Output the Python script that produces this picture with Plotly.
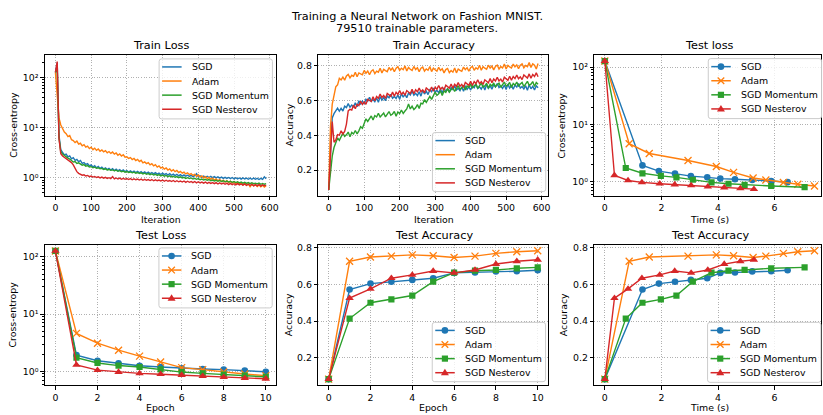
import plotly.graph_objects as go

W, H = 823, 415
FONT = "DejaVu Sans"

NAMES = ["SGD", "Adam", "SGD Momentum", "SGD Nesterov"]
COLORS = ["#1f77b4", "#ff7f0e", "#2ca02c", "#d62728"]
SYMBOLS = ["circle", "x-thin", "square", "triangle-up"]

ITER_STEP = 5  # one logged value every 5 iterations

# ---- Train loss (cross-entropy), one value every 5 iterations ----
TL_SGD = [125, 195, 7.0, 3.6, 3.2, 2.85, 2.95, 2.6, 2.72, 2.38,
          2.5, 2.22, 2.31, 2.08, 2.2, 1.93, 2.0, 1.84, 1.9, 1.72,
          1.8, 1.63, 1.74, 1.57, 1.68, 1.53, 1.62, 1.49, 1.57, 1.45,
          1.54, 1.42, 1.51, 1.39, 1.48, 1.37, 1.45, 1.35, 1.43, 1.32,
          1.39, 1.3, 1.37, 1.28, 1.35, 1.27, 1.34, 1.25, 1.32, 1.23,
          1.3, 1.22, 1.29, 1.21, 1.27, 1.19, 1.26, 1.18, 1.24, 1.16,
          1.23, 1.15, 1.21, 1.13, 1.2, 1.12, 1.18, 1.1, 1.17, 1.09,
          1.15, 1.08, 1.14, 1.07, 1.12, 1.06, 1.11, 1.05, 1.1, 1.2,
          1.04, 1.09, 1.03, 1.08, 1.02, 1.07, 1.01, 1.06, 1.0, 1.05,
          0.99, 1.04, 0.98, 1.03, 0.97, 1.02, 0.97, 1.01, 0.96, 1.01,
          0.95, 1.0, 0.95, 0.99, 0.94, 0.99, 0.94, 0.98, 0.93, 0.98,
          0.93, 0.98, 0.93, 0.97, 0.92, 0.97, 0.93, 1.04, 0.95]
TL_ADAM = [125, 42, 15.5, 11.2, 9.3, 8.1, 7.5, 6.6, 6.9, 5.7,
           5.5, 5.0, 5.35, 4.65, 4.85, 4.3, 4.55, 4.05, 4.25, 3.8,
           4.05, 3.62, 3.88, 3.5, 3.72, 3.36, 3.56, 3.28, 3.46, 3.14,
           3.32, 3.05, 3.24, 2.94, 3.1, 2.8, 2.96, 2.7, 2.86, 2.56,
           2.6, 2.42, 2.52, 2.3, 2.42, 2.2, 2.32, 2.1, 2.22, 1.98,
           2.06, 1.9, 2.0, 1.8, 1.9, 1.72, 1.82, 1.63, 1.72, 1.56,
           1.62, 1.48, 1.56, 1.42, 1.49, 1.36, 1.44, 1.32, 1.39, 1.27,
           1.34, 1.23, 1.29, 1.19, 1.25, 1.15, 1.21, 1.11, 1.17, 1.07,
           1.13, 1.03, 1.09, 0.99, 1.05, 0.96, 1.01, 0.93, 0.98, 0.9,
           0.95, 0.87, 0.92, 0.84, 0.89, 0.82, 0.87, 0.8, 0.85, 0.78,
           0.83, 0.76, 0.81, 0.74, 0.79, 0.72, 0.78, 0.71, 0.76, 0.66,
           0.74, 0.69, 0.73, 0.67, 0.72, 0.66, 0.71, 0.65, 0.69]
TL_MOM = [125, 150, 6.2, 3.3, 2.95, 2.75, 2.6, 2.45, 2.35, 2.2,
          2.05, 2.1, 1.92, 1.98, 1.85, 1.78, 1.82, 1.7, 1.74, 1.63,
          1.66, 1.58, 1.62, 1.54, 1.58, 1.5, 1.53, 1.46, 1.5, 1.43,
          1.46, 1.4, 1.43, 1.37, 1.41, 1.34, 1.38, 1.32, 1.35, 1.29,
          1.33, 1.27, 1.3, 1.25, 1.29, 1.23, 1.27, 1.21, 1.25, 1.19,
          1.23, 1.17, 1.21, 1.15, 1.19, 1.13, 1.17, 1.11, 1.15, 1.09,
          1.13, 1.07, 1.11, 1.05, 1.09, 1.04, 1.07, 1.02, 1.05, 1.0,
          1.04, 0.99, 1.02, 0.97, 1.0, 0.96, 0.99, 0.94, 0.97, 0.93,
          0.96, 0.91, 0.94, 0.9, 0.93, 0.89, 0.92, 0.87, 0.9, 0.86,
          0.89, 0.85, 0.88, 0.84, 0.87, 0.83, 0.86, 0.82, 0.85, 0.81,
          0.84, 0.8, 0.83, 0.79, 0.82, 0.78, 0.81, 0.77, 0.8, 0.76,
          0.79, 0.76, 0.78, 0.75, 0.78, 0.74, 0.77, 0.74, 0.76]
TL_NES = [125, 205, 6.0, 3.0, 2.7, 2.55, 2.4, 2.3, 2.2, 2.0,
          1.8, 1.5, 1.32, 1.22, 1.17, 1.12, 1.14, 1.08, 1.11, 1.05,
          1.08, 1.03, 1.06, 1.01, 1.04, 0.99, 1.03, 0.98, 1.02, 0.97,
          1.0, 0.96, 1.05, 0.95, 0.99, 0.94, 0.98, 0.93, 0.97, 0.93,
          0.96, 0.92, 0.96, 0.91, 0.95, 0.91, 0.94, 0.9, 0.94, 0.89,
          0.93, 0.89, 0.92, 0.88, 0.92, 0.87, 0.91, 0.87, 0.9, 0.86,
          0.9, 0.85, 0.89, 0.85, 0.88, 0.84, 0.88, 0.83, 0.87, 0.83,
          0.86, 0.82, 0.86, 0.81, 0.85, 0.81, 0.84, 0.8, 0.84, 0.79,
          0.83, 0.79, 0.82, 0.78, 0.82, 0.77, 0.81, 0.77, 0.8, 0.76,
          0.8, 0.75, 0.79, 0.75, 0.78, 0.74, 0.78, 0.73, 0.77, 0.73,
          0.76, 0.72, 0.76, 0.72, 0.75, 0.71, 0.75, 0.7, 0.74, 0.7,
          0.74, 0.69, 0.73, 0.69, 0.73, 0.68, 0.72, 0.69, 0.71]

# ---- Train accuracy, one value every 5 iterations ----
TA_SGD = [0.085, 0.34, 0.50, 0.525, 0.54, 0.557, 0.539, 0.556, 0.540, 0.568,
          0.560, 0.583, 0.562, 0.574, 0.564, 0.587, 0.565, 0.599, 0.581, 0.598,
          0.582, 0.608, 0.598, 0.619, 0.596, 0.606, 0.594, 0.615, 0.591, 0.623,
          0.603, 0.618, 0.600, 0.626, 0.616, 0.637, 0.614, 0.624, 0.612, 0.633,
          0.608, 0.641, 0.620, 0.636, 0.617, 0.644, 0.633, 0.655, 0.631, 0.642,
          0.629, 0.651, 0.626, 0.659, 0.638, 0.654, 0.635, 0.662, 0.651, 0.673,
          0.649, 0.659, 0.646, 0.667, 0.642, 0.674, 0.653, 0.668, 0.649, 0.675,
          0.664, 0.685, 0.661, 0.671, 0.658, 0.679, 0.654, 0.686, 0.665, 0.680,
          0.661, 0.686, 0.674, 0.695, 0.670, 0.680, 0.666, 0.687, 0.661, 0.693,
          0.671, 0.685, 0.666, 0.691, 0.679, 0.699, 0.675, 0.684, 0.670, 0.690,
          0.664, 0.695, 0.672, 0.686, 0.666, 0.690, 0.678, 0.698, 0.672, 0.681,
          0.667, 0.686, 0.660, 0.691, 0.668, 0.682, 0.662, 0.686, 0.674]
TA_ADAM = [0.085, 0.45, 0.58, 0.64, 0.68, 0.691, 0.729, 0.719, 0.736, 0.718,
           0.742, 0.751, 0.731, 0.746, 0.740, 0.764, 0.738, 0.760, 0.753, 0.749,
           0.774, 0.758, 0.770, 0.749, 0.770, 0.778, 0.756, 0.770, 0.764, 0.787,
           0.759, 0.780, 0.773, 0.767, 0.791, 0.776, 0.788, 0.766, 0.787, 0.796,
           0.774, 0.787, 0.778, 0.800, 0.771, 0.791, 0.781, 0.774, 0.797, 0.779,
           0.790, 0.767, 0.787, 0.793, 0.770, 0.783, 0.775, 0.796, 0.767, 0.787,
           0.778, 0.770, 0.792, 0.774, 0.784, 0.760, 0.779, 0.785, 0.761, 0.773,
           0.764, 0.788, 0.760, 0.782, 0.774, 0.769, 0.793, 0.778, 0.790, 0.769,
           0.790, 0.798, 0.775, 0.789, 0.781, 0.804, 0.775, 0.796, 0.787, 0.781,
           0.804, 0.788, 0.799, 0.777, 0.797, 0.805, 0.782, 0.796, 0.788, 0.811,
           0.782, 0.803, 0.794, 0.788, 0.811, 0.795, 0.806, 0.784, 0.804, 0.812,
           0.789, 0.803, 0.796, 0.819, 0.791, 0.812, 0.804, 0.782, 0.814]
TA_MOM = [0.085, 0.2, 0.28, 0.33, 0.36, 0.385, 0.371, 0.395, 0.413, 0.394,
          0.403, 0.419, 0.392, 0.417, 0.408, 0.428, 0.408, 0.426, 0.450, 0.441,
          0.473, 0.495, 0.480, 0.493, 0.512, 0.488, 0.514, 0.506, 0.527, 0.506,
          0.519, 0.529, 0.506, 0.524, 0.537, 0.516, 0.523, 0.538, 0.510, 0.535,
          0.525, 0.546, 0.526, 0.540, 0.552, 0.580, 0.552, 0.568, 0.549, 0.559,
          0.577, 0.555, 0.585, 0.581, 0.606, 0.590, 0.608, 0.624, 0.607, 0.631,
          0.650, 0.630, 0.639, 0.656, 0.630, 0.656, 0.648, 0.669, 0.649, 0.663,
          0.675, 0.653, 0.672, 0.686, 0.664, 0.672, 0.688, 0.661, 0.685, 0.676,
          0.696, 0.674, 0.685, 0.695, 0.671, 0.689, 0.701, 0.679, 0.685, 0.700,
          0.671, 0.694, 0.684, 0.702, 0.680, 0.691, 0.700, 0.677, 0.694, 0.707,
          0.684, 0.690, 0.705, 0.676, 0.699, 0.689, 0.707, 0.684, 0.696, 0.705,
          0.681, 0.699, 0.711, 0.689, 0.695, 0.710, 0.681, 0.705, 0.695]
TA_NES = [0.085, 0.28, 0.48, 0.36, 0.373, 0.404, 0.401, 0.426, 0.408, 0.423,
          0.465, 0.541, 0.550, 0.546, 0.574, 0.553, 0.579, 0.571, 0.596, 0.578,
          0.593, 0.579, 0.608, 0.601, 0.595, 0.622, 0.599, 0.624, 0.614, 0.638,
          0.618, 0.630, 0.613, 0.641, 0.632, 0.625, 0.649, 0.625, 0.648, 0.636,
          0.658, 0.636, 0.648, 0.631, 0.658, 0.649, 0.641, 0.665, 0.640, 0.663,
          0.651, 0.672, 0.651, 0.662, 0.645, 0.673, 0.663, 0.655, 0.679, 0.655,
          0.677, 0.666, 0.687, 0.666, 0.677, 0.661, 0.689, 0.679, 0.672, 0.696,
          0.672, 0.694, 0.683, 0.704, 0.683, 0.694, 0.677, 0.705, 0.695, 0.688,
          0.712, 0.687, 0.710, 0.698, 0.720, 0.698, 0.709, 0.693, 0.720, 0.711,
          0.703, 0.727, 0.703, 0.725, 0.713, 0.735, 0.713, 0.724, 0.707, 0.735,
          0.725, 0.717, 0.741, 0.717, 0.739, 0.727, 0.748, 0.726, 0.737, 0.721,
          0.748, 0.738, 0.730, 0.754, 0.729, 0.751, 0.739, 0.760, 0.738]

# ---- Test metrics per epoch ----
EPOCHS = [0, 1, 2, 3, 4, 5, 6, 7, 8, 9, 10]
LOSS_SGD = [127, 1.92, 1.53, 1.38, 1.25, 1.19, 1.13, 1.10, 1.07, 1.03, 0.98]
LOSS_ADAM = [127, 4.6, 3.1, 2.34, 1.84, 1.45, 1.16, 1.07, 0.97, 0.90, 0.84]
LOSS_MOM = [127, 1.73, 1.40, 1.26, 1.19, 1.08, 0.97, 0.92, 0.88, 0.84, 0.80]
LOSS_NES = [127, 1.29, 1.05, 0.97, 0.92, 0.89, 0.86, 0.82, 0.79, 0.76, 0.74]

ACC_SGD = [0.085, 0.572, 0.604, 0.614, 0.624, 0.633, 0.662, 0.664, 0.670, 0.671, 0.676]
ACC_ADAM = [0.085, 0.725, 0.748, 0.753, 0.760, 0.755, 0.746, 0.753, 0.768, 0.777, 0.782]
ACC_MOM = [0.085, 0.414, 0.500, 0.518, 0.539, 0.615, 0.663, 0.674, 0.678, 0.687, 0.692]
ACC_NES = [0.085, 0.525, 0.575, 0.633, 0.651, 0.672, 0.662, 0.678, 0.710, 0.725, 0.733]

# wall-clock time (s) at the end of each epoch
TIME_SGD = [0, 1.33, 1.91, 2.48, 3.04, 3.62, 4.08, 4.60, 5.21, 5.88, 6.46]
TIME_ADAM = [0, 0.86, 1.57, 2.94, 3.94, 4.55, 5.24, 5.69, 6.31, 6.82, 7.41]
TIME_MOM = [0, 0.74, 1.33, 1.98, 2.53, 3.11, 3.77, 4.37, 4.94, 5.88, 7.06]
TIME_NES = [0, 0.34, 0.82, 1.31, 1.94, 2.47, 3.05, 3.64, 4.22, 4.79, 5.27]

TRAIN_LOSS = [TL_SGD, TL_ADAM, TL_MOM, TL_NES]
TRAIN_ACC = [TA_SGD, TA_ADAM, TA_MOM, TA_NES]
TEST_LOSS = [LOSS_SGD, LOSS_ADAM, LOSS_MOM, LOSS_NES]
TEST_ACC = [ACC_SGD, ACC_ADAM, ACC_MOM, ACC_NES]
TIMES = [TIME_SGD, TIME_ADAM, TIME_MOM, TIME_NES]

TITLES = ["Train Loss", "Train Accuracy", "Test loss", "Test Loss", "Test Accuracy", "Test Accuracy"]
LOG_TICKS = [1, 10, 100]
LOG_LABELS = ["10\u2070", "10\u00b9", "10\u00b2"]
ACC_TICKS = [0.2, 0.4, 0.6, 0.8]


def px(x):
    return x / W


def py(y):
    return 1 - y / H


COLX = [(45, 277), (319, 549.5), (595.7, 823)]
ROWY = [(52, 194), (243.3, 385)]

fig = go.Figure()

# ---------- traces ----------
for k in range(4):
    xs = [ITER_STEP * i for i in range(len(TRAIN_LOSS[k]))]
    fig.add_trace(go.Scatter(x=xs, y=TRAIN_LOSS[k], mode="lines", name=NAMES[k],
                             line=dict(color=COLORS[k], width=1.4),
                             xaxis="x", yaxis="y", showlegend=False))
for k in range(4):
    xs = [ITER_STEP * i for i in range(len(TRAIN_ACC[k]))]
    fig.add_trace(go.Scatter(x=xs, y=TRAIN_ACC[k], mode="lines", name=NAMES[k],
                             line=dict(color=COLORS[k], width=1.4),
                             xaxis="x2", yaxis="y2", showlegend=False))


def marker(k):
    if SYMBOLS[k] == "x-thin":
        return dict(symbol="x-thin", size=7, color=COLORS[k],
                    line=dict(color=COLORS[k], width=1.3))
    size = {"circle": 6.6, "square": 6.2, "triangle-up": 7.4}[SYMBOLS[k]]
    return dict(symbol=SYMBOLS[k], size=size, color=COLORS[k], line=dict(width=0))


for xa, ya, xdata, ydata in [("x3", "y3", TIMES, TEST_LOSS),
                             ("x4", "y4", [EPOCHS] * 4, TEST_LOSS),
                             ("x5", "y5", [EPOCHS] * 4, TEST_ACC),
                             ("x6", "y6", TIMES, TEST_ACC)]:
    for k in range(4):
        fig.add_trace(go.Scatter(x=xdata[k], y=ydata[k], mode="lines+markers", name=NAMES[k],
                                 line=dict(color=COLORS[k], width=1.4), marker=marker(k),
                                 xaxis=xa, yaxis=ya, showlegend=False))

# ---------- axes ----------
tickfont = dict(family=FONT, size=9.4, color="black")
base = dict(showline=True, mirror=True, linecolor="black", linewidth=0.9,
            ticks="outside", ticklen=3.5, tickwidth=0.9, tickcolor="black",
            showgrid=True, gridcolor="#b0b0b0", griddash="1px,1.6px", gridwidth=0.8,
            zeroline=False, tickfont=tickfont, fixedrange=True)

minor_vals = [m * 10 ** e for e in (-1, 0, 1, 2) for m in range(2, 10)]
logy = dict(type="log", tickmode="array", tickvals=LOG_TICKS, ticktext=LOG_LABELS,
            minor=dict(ticks="outside", ticklen=2, tickwidth=0.7, tickcolor="black",
                       tickvals=minor_vals, showgrid=False))
accy = dict(tickmode="array", tickvals=ACC_TICKS, ticktext=[f"{v:.1f}" for v in ACC_TICKS])
iterx = dict(range=[-29.5, 618.5], tickmode="array", tickvals=[0, 100, 200, 300, 400, 500, 600])
epochx = dict(range=[-0.5, 10.5], tickmode="array", tickvals=[0, 2, 4, 6, 8, 10])
timex = dict(range=[-0.374, 7.64], tickmode="array", tickvals=[0, 2, 4, 6])

specs = [
    (1, 0, 0, iterx, dict(logy, range=[-0.356, 2.45])),
    (2, 0, 1, iterx, dict(accy, range=[0.053, 0.865])),
    (3, 0, 2, timex, dict(logy, range=[-0.243, 2.216])),
    (4, 1, 0, epochx, dict(logy, range=[-0.243, 2.216])),
    (5, 1, 1, epochx, dict(accy, range=[0.052, 0.816])),
    (6, 1, 2, timex, dict(accy, range=[0.052, 0.816])),
]
layout_axes = {}
for n, r, c, xs, ys in specs:
    sfx = "" if n == 1 else str(n)
    x0, x1 = COLX[c]
    yt, yb = ROWY[r]
    layout_axes["xaxis" + sfx] = dict(base, **xs, domain=[px(x0), min(px(x1), 1.0)],
                                      anchor="y" + sfx)
    layout_axes["yaxis" + sfx] = dict(base, **ys, domain=[py(yb), py(yt)],
                                      anchor="x" + sfx)

# ---------- text ----------
annotations = []


def text(x, y, s, size=9.4, angle=0, xanchor="center"):
    annotations.append(dict(x=px(x), y=py(y), xref="paper", yref="paper", text=s,
                            showarrow=False, xanchor=xanchor, yanchor="middle",
                            textangle=angle,
                            font=dict(family=FONT, size=size, color="black")))


text(418, 13.3, "Training a Neural Network on Fashion MNIST.", size=11.25)
text(418, 25.7, "79510 trainable parameters.", size=11.25)

title_x = [161, 435, 711.5]
title_y = [42.7, 234.3]
for i, (n, r, c, _, _) in enumerate(specs):
    text(title_x[c], title_y[r], TITLES[i], size=11.25)

xlabels = ["Iteration", "Iteration", "Time (s)", "Epoch", "Epoch", "Time (s)"]
xlabel_y = [218.3, 407.8]
for i, (n, r, c, _, _) in enumerate(specs):
    text(title_x[c], xlabel_y[r], xlabels[i])

ylabels = ["Cross-entropy", "Accuracy", "Cross-entropy", "Cross-entropy", "Accuracy", "Accuracy"]
ylabel_x = [[12.7, 290, 562.7], [12.7, 290, 565.7]]
for i, (n, r, c, _, _) in enumerate(specs):
    yt, yb = ROWY[r]
    text(ylabel_x[r][c], (yt + yb) / 2, ylabels[i], angle=-90)

# ---------- legends (matplotlib-style boxes) ----------
shapes = []
LEG_W, LEG_H = 113.3, 60
ROW0, ROWD = 8.1, 14.2


def pshape(ax, ay, **kw):
    d = dict(xref="paper", yref="paper", xsizemode="pixel", ysizemode="pixel",
             xanchor=px(ax), yanchor=py(ay), layer="above")
    d.update(kw)
    shapes.append(d)


def marker_shape(cx, cy, k):
    col = COLORS[k]
    sym = SYMBOLS[k]
    if sym == "circle":
        pshape(cx, cy, type="circle", x0=-3.3, x1=3.3, y0=-3.3, y1=3.3,
               fillcolor=col, line=dict(width=0))
    elif sym == "square":
        pshape(cx, cy, type="rect", x0=-3.1, x1=3.1, y0=-3.1, y1=3.1,
               fillcolor=col, line=dict(width=0))
    elif sym == "triangle-up":
        pshape(cx, cy, type="path", path="M -4,-2.6 L 4,-2.6 L 0,3.9 Z",
               fillcolor=col, line=dict(width=0))
    else:
        pshape(cx, cy, type="path", path="M -3.3,-3.3 L 3.3,3.3 M -3.3,3.3 L 3.3,-3.3",
               line=dict(color=col, width=1.3))


def rounded_box(w, h, r=2.5):
    return (f"M {r},0 L {w - r},0 Q {w},0 {w},{-r} L {w},{-h + r} "
            f"Q {w},{-h} {w - r},{-h} L {r},{-h} Q 0,{-h} 0,{-h + r} "
            f"L 0,{-r} Q 0,0 {r},0 Z")


def legend(left, top, with_markers, h=LEG_H):
    pshape(left, top, type="path", path=rounded_box(LEG_W, h),
           fillcolor="rgba(255,255,255,0.8)", line=dict(color="#cccccc", width=1))
    for k in range(4):
        cy = top + ROW0 + ROWD * k
        pshape(left, cy, type="line", x0=3, x1=22.5, y0=0, y1=0,
               line=dict(color=COLORS[k], width=1.5))
        if with_markers:
            marker_shape(left + 12.7, cy, k)
        text(left + 30.5, cy, NAMES[k], xanchor="left")


legend(159.5, 56.3, False)
legend(433.5, 130.5, False, h=59)
legend(710, 56, True)
legend(159.3, 246.7, True)
legend(433.3, 321.7, True, h=59.3)
legend(709.3, 321.7, True)

fig.update_layout(
    width=W, height=H,
    margin=dict(l=0, r=0, t=0, b=0),
    paper_bgcolor="white", plot_bgcolor="white",
    font=dict(family=FONT, size=9.4, color="black"),
    showlegend=False,
    annotations=annotations,
    shapes=shapes,
    **layout_axes,
)

fig.write_html("out.html", config={"displayModeBar": False})
